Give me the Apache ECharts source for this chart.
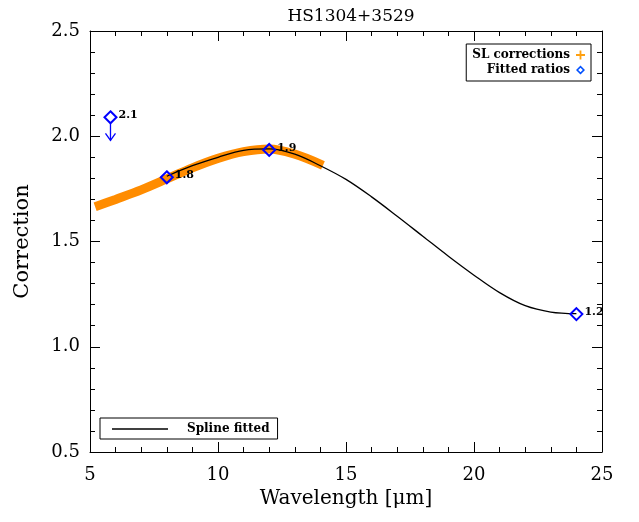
<!DOCTYPE html>
<html><head><meta charset="utf-8">
<script src="https://cdn.jsdelivr.net/npm/echarts@6/dist/echarts.min.js"></script>
<style>html,body{margin:0;padding:0;background:#fff}#c{width:639px;height:522px}</style>
</head><body><div id="c"></div>
<script>
var titleText = 'HS1304+3529';
var slX = [5.2, 6, 7, 8, 9, 10, 11, 12, 13, 14.1];
var slY = [1.665, 1.70, 1.745, 1.797, 1.85, 1.895, 1.927, 1.94, 1.915, 1.862];
var splineX = [8, 9, 10, 11, 12, 13, 14, 15, 16, 17, 18, 19, 20, 21, 22, 23, 24];
var splineY = [1.81, 1.86, 1.90, 1.933, 1.94, 1.915, 1.86, 1.795, 1.712, 1.62, 1.525, 1.43, 1.34, 1.257, 1.195, 1.165, 1.157];
var fitX = [5.8, 8, 12, 24];
var fitY = [2.09, 1.805, 1.935, 1.155];
var fitLabels = ['2.1', '1.8', '1.9', '1.2'];
var upperLimitX = 5.8, upperLimitTo = 1.98;

var FONT = 'DejaVu Serif';
function zip(a, b) { return a.map(function (v, i) { return [v, b[i]]; }); }
var fitData = fitX.map(function (x, i) { return { value: [x, fitY[i]], label: fitLabels[i] }; });

var chart = echarts.init(document.getElementById('c'), null, { renderer: 'canvas' });
var axisCommon = {
  axisLine: { show: true, lineStyle: { color: '#000', width: 1 } },
  splitLine: { show: false }
};
chart.setOption({
  animation: false,
  title: { text: titleText, left: 346, top: 3, textAlign: 'center',
    textStyle: { fontFamily: FONT, fontSize: 17, fontWeight: 'normal', color: '#000' } },
  grid: { left: 90, right: 37, top: 31, bottom: 70 },
  legend: [
    { data: [{ name: 'SL corrections', icon: 'path://M4,0H6V4H10V6H6V10H4V6H0V4H4Z', itemStyle: { color: '#ffa010', opacity: 1 } },
             { name: 'Fitted ratios', icon: 'path://M5,0L10,5L5,10L0,5ZM5,2.4L2.4,5L5,7.6L7.6,5Z', itemStyle: { color: '#0050ff', borderWidth: 0, opacity: 1 } }],
      right: 48, top: 44, orient: 'vertical', align: 'right', itemGap: 3, itemWidth: 9, itemHeight: 9,
      padding: [5, 6, 5, 6], borderColor: '#000', borderWidth: 1,
      textStyle: { fontFamily: FONT, fontSize: 12, fontWeight: 'bold', color: '#000', padding: [0, 1, 0, 0] } },
    { data: [{ name: 'Spline fitted', icon: 'rect' }],
      left: 100, top: 418, itemWidth: 56, itemHeight: 1.5, padding: [5, 8, 4, 12],
      borderColor: '#000', borderWidth: 1,
      textStyle: { fontFamily: FONT, fontSize: 12, fontWeight: 'bold', color: '#000', padding: [0, 0, 0, 14] } }
  ],
  xAxis: [
    Object.assign({ type: 'value', min: 5, max: 25, interval: 5, position: 'bottom',
      name: 'Wavelength [μm]', nameLocation: 'middle', nameGap: 37,
      nameTextStyle: { fontFamily: FONT, fontSize: 20, color: '#000' },
      axisTick: { inside: true, length: 10, lineStyle: { color: '#000' } },
      minorTick: { show: true, splitNumber: 5, length: 5, lineStyle: { color: '#000' } },
      axisLabel: { fontFamily: FONT, fontSize: 18, color: '#000', margin: 14 } }, axisCommon),
    Object.assign({ type: 'value', min: 5, max: 25, interval: 5, position: 'top',
      axisTick: { inside: true, length: 10, lineStyle: { color: '#000' } },
      minorTick: { show: true, splitNumber: 5, length: 5, lineStyle: { color: '#000' } },
      axisLabel: { show: false } }, axisCommon)
  ],
  yAxis: [
    Object.assign({ type: 'value', min: 0.5, max: 2.5, interval: 0.5, position: 'left',
      name: 'Correction', nameLocation: 'middle', nameGap: 57, nameRotate: 90,
      nameTextStyle: { fontFamily: FONT, fontSize: 21, color: '#000' },
      axisTick: { inside: true, length: 10, lineStyle: { color: '#000' } },
      minorTick: { show: true, splitNumber: 5, length: 5, lineStyle: { color: '#000' } },
      axisLabel: { fontFamily: FONT, fontSize: 18, color: '#000', margin: 10,
        formatter: function (v) { return v.toFixed(1); } } }, axisCommon),
    Object.assign({ type: 'value', min: 0.5, max: 2.5, interval: 0.5, position: 'right',
      axisTick: { inside: true, length: 10, lineStyle: { color: '#000' } },
      minorTick: { show: true, splitNumber: 5, length: 5, lineStyle: { color: '#000' } },
      axisLabel: { show: false } }, axisCommon)
  ],
  series: [
    { name: 'SL corrections', type: 'line', data: zip(slX, slY), smooth: 0.35, symbol: 'none',
      lineStyle: { color: '#ff8c00', width: 9 }, itemStyle: { color: '#ffa010' }, z: 2 },
    { name: 'Spline fitted', type: 'line', data: zip(splineX, splineY), smooth: 0.35, symbol: 'none',
      lineStyle: { color: '#000', width: 1.3 }, itemStyle: { color: '#000' }, z: 3 },
    { name: 'Fitted ratios', type: 'scatter', data: fitData, symbol: 'diamond', symbolSize: 12,
      itemStyle: { color: 'rgba(0,0,0,0)', borderColor: '#0000ff', borderWidth: 2, opacity: 1 }, z: 5,
      label: { show: true, position: 'right', distance: 1, offset: [0, -2],
        formatter: function (p) { return p.data.label; },
        fontFamily: FONT, fontSize: 11, fontWeight: 'bold', color: '#000' } },
    { name: 'limit', type: 'custom', z: 4, data: [[upperLimitX, fitY[0], upperLimitTo]],
      renderItem: function (params, api) {
        var p0 = api.coord([api.value(0), api.value(1)]);
        var p1 = api.coord([api.value(0), api.value(2)]);
        return { type: 'group', children: [
          { type: 'line', shape: { x1: p0[0], y1: p0[1] + 6, x2: p1[0], y2: p1[1] }, style: { stroke: '#0000ff', lineWidth: 1.3 } },
          { type: 'polyline', shape: { points: [[p1[0] - 5, p1[1] - 7], [p1[0], p1[1]], [p1[0] + 5, p1[1] - 7]] }, style: { stroke: '#0000ff', lineWidth: 1.3, fill: null } }
        ] };
      } }
  ]
});
</script></body></html>
